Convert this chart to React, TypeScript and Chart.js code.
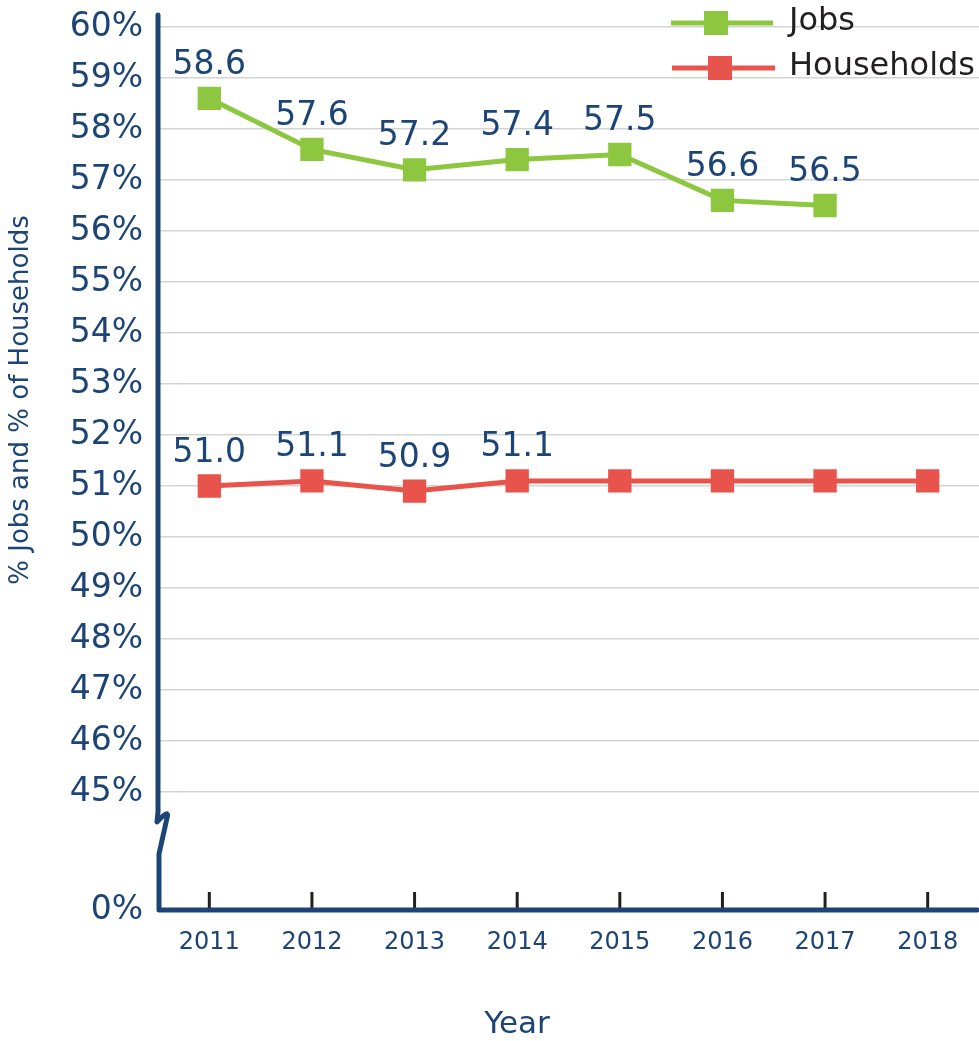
import React, { useEffect, useRef } from "react";
import Chart from "chart.js/auto";

const years = ["2011", "2012", "2013", "2014", "2015", "2016", "2017", "2018"];
const jobs = [58.6, 57.6, 57.2, 57.4, 57.5, 56.6, 56.5, null];
const households = [51.0, 51.1, 50.9, 51.1, 51.1, 51.1, 51.1, 51.1];
const jobsLabels = ["58.6", "57.6", "57.2", "57.4", "57.5", "56.6", "56.5", ""];
const householdsLabels = ["51.0", "51.1", "50.9", "51.1", "", "", "", ""];
const yTickValues = [45, 46, 47, 48, 49, 50, 51, 52, 53, 54, 55, 56, 57, 58, 59, 60];
const zeroTickLabel = "0%";

const NAVY = "#1c4477";
const GREEN = "#8dc63f";
const RED = "#e8534b";
const FONT = "'DejaVu Sans', sans-serif";
// virtual scale position where the broken axis places 0%
const Y_MIN = 45 - 118 / 51;
const Y_MAX = 60;

export default function App() {
  const ref = useRef<HTMLCanvasElement | null>(null);
  useEffect(() => {
    if (!ref.current) return;
    const overlay = {
      id: "overlay",
      afterDatasetsDraw(chart: any) {
        const ctx = chart.ctx;
        ctx.save();
        ctx.fillStyle = NAVY;
        ctx.font = `33px ${FONT}`;
        ctx.textAlign = "center";
        ctx.textBaseline = "middle";
        const sets = [jobsLabels, householdsLabels];
        sets.forEach((labels, di) => {
          const meta = chart.getDatasetMeta(di);
          meta.data.forEach((pt: any, i: number) => {
            if (!labels[i]) return;
            ctx.fillText(labels[i], pt.x, pt.y - 33);
          });
        });
        ctx.restore();
      },
      afterDraw(chart: any) {
        const ctx = chart.ctx;
        const area = chart.chartArea;
        const ys = chart.scales.y;
        const xs = chart.scales.x;
        const x0 = area.left;
        const yBottom = ys.getPixelForValue(Y_MIN);
        const y45 = ys.getPixelForValue(45);
        ctx.save();
        // tick marks
        ctx.strokeStyle = "#231f20";
        ctx.lineWidth = 3;
        years.forEach((_, i) => {
          const px = xs.getPixelForValue(i);
          ctx.beginPath();
          ctx.moveTo(px, yBottom - 18);
          ctx.lineTo(px, yBottom);
          ctx.stroke();
        });
        // axes
        ctx.strokeStyle = NAVY;
        ctx.lineWidth = 5;
        ctx.lineJoin = "round";
        ctx.lineCap = "round";
        ctx.beginPath();
        ctx.moveTo(x0, area.top - 12);
        ctx.lineTo(x0, y45 + 20);
        ctx.lineTo(x0 - 1, y45 + 30);
        ctx.quadraticCurveTo(x0 + 12, y45 + 16, x0 + 9, y45 + 26);
        ctx.lineTo(x0 + 1, y45 + 62);
        ctx.lineTo(x0 + 1, yBottom);
        ctx.lineTo(area.right - 2, yBottom);
        ctx.stroke();
        // legend
        const legend = [
          { label: "Jobs", color: GREEN, y: 23, x1: 671, x2: 773, mx: 716 },
          { label: "Households", color: RED, y: 68, x1: 672, x2: 775, mx: 720 },
        ];
        legend.forEach((l) => {
          ctx.strokeStyle = l.color;
          ctx.lineWidth = 5;
          ctx.lineCap = "butt";
          ctx.beginPath();
          ctx.moveTo(l.x1, l.y);
          ctx.lineTo(l.x2, l.y);
          ctx.stroke();
          ctx.fillStyle = l.color;
          ctx.fillRect(l.mx - 12, l.y - 12, 24, 24);
          ctx.fillStyle = "#231f20";
          ctx.font = `32px ${FONT}`;
          ctx.textAlign = "left";
          ctx.textBaseline = "middle";
          ctx.fillText(l.label, 789, l.y - 1);
        });
        // axis titles
        ctx.fillStyle = NAVY;
        ctx.font = `31px ${FONT}`;
        ctx.textAlign = "center";
        ctx.textBaseline = "middle";
        ctx.fillText("Year", 517, 1025);
        ctx.translate(21, 400);
        ctx.rotate(-Math.PI / 2);
        ctx.font = `26px ${FONT}`;
        ctx.fillText("% Jobs and % of Households", 0, 0);
        ctx.restore();
      },
    };
    const chart = new Chart(ref.current, {
      type: "line",
      data: {
        labels: years,
        datasets: [
          {
            label: "Jobs",
            data: jobs,
            borderColor: GREEN,
            backgroundColor: GREEN,
            borderWidth: 5,
            pointStyle: "rect",
            pointRadius: 16.5,
            pointBorderWidth: 0,
          },
          {
            label: "Households",
            data: households,
            borderColor: RED,
            backgroundColor: RED,
            borderWidth: 5,
            pointStyle: "rect",
            pointRadius: 16.5,
            pointBorderWidth: 0,
          },
        ],
      },
      options: {
        responsive: false,
        animation: false,
        layout: { autoPadding: false, padding: { top: 27, right: 0, left: 0, bottom: 0 } },
        plugins: { legend: { display: false }, tooltip: { enabled: false } },
        scales: {
          x: {
            offset: true,
            grid: { display: false, drawTicks: false },
            border: { display: false },
            ticks: { color: NAVY, font: { family: FONT, size: 24 }, padding: 18, maxRotation: 0 },
            afterFit: (s: any) => {
              s.height = 131;
              s.paddingLeft = 0;
              s.paddingRight = 0;
            },
          },
          y: {
            min: Y_MIN,
            max: Y_MAX,
            afterBuildTicks: (s: any) => {
              s.ticks = [{ value: Y_MIN }, ...yTickValues.map((v) => ({ value: v }))];
            },
            grid: {
              drawTicks: false,
              color: (c: any) => (c.tick && c.tick.value < 45 ? "rgba(0,0,0,0)" : "#d4d4d4"),
              lineWidth: 1.5,
            },
            border: { display: false },
            ticks: {
              color: NAVY,
              font: { family: FONT, size: 33 },
              padding: 15,
              autoSkip: false,
              callback: (v: any) => (Number(v) < 45 ? zeroTickLabel : `${v}%`),
            },
            afterFit: (s: any) => {
              s.width = 158;
              s.paddingTop = 0;
              s.paddingBottom = 0;
            },
          },
        },
      },
      plugins: [overlay],
    });
    return () => chart.destroy();
  }, []);
  return (
    <div style={{ position: "fixed", left: 0, top: 0, width: 979, height: 1041, background: "#fff" }}>
      <canvas ref={ref} width={979} height={1041} />
    </div>
  );
}
